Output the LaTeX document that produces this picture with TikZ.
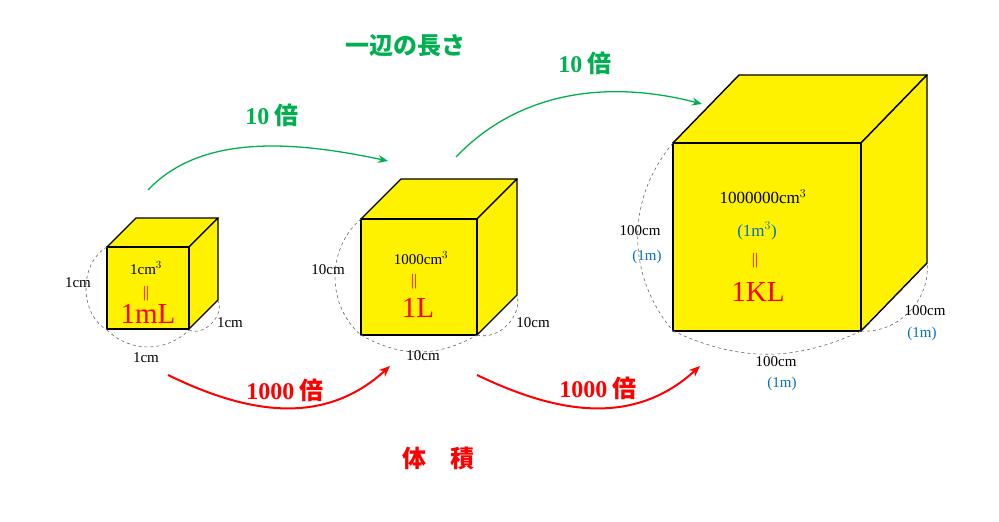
\documentclass[tikz,border=0pt]{standalone}
\usepackage{fontspec}
\setmainfont{Liberation Serif}
\newfontfamily\jp{Noto Sans CJK JP}
\usetikzlibrary{arrows.meta}
\definecolor{cy}{HTML}{FFF200}
\definecolor{cg}{HTML}{00B050}
\definecolor{cb}{HTML}{0070C0}
\tikzset{
 face/.style={fill=cy,draw=black,line width=1.4pt,line join=round},
 dim/.style={draw=black!60,dashed,line width=0.6pt},
 lbl/.style={font=\fontsize{15}{15}\selectfont,inner sep=0pt},
 blbl/.style={lbl,text=cb},
 eq/.style={text=red,font=\fontsize{16}{16}\selectfont,inner sep=0pt},
 big/.style={text=red,font=\fontsize{29}{29}\selectfont,inner sep=0pt},
 garr/.style={draw=cg,line width=1.3pt,-{Stealth[length=10pt,width=8pt]}},
 rarr/.style={draw=red,line width=2pt,-{Stealth[length=11pt,width=9pt]}},
 gtxt/.style={text=cg,font=\fontsize{24}{24}\selectfont\bfseries\jp,inner sep=0pt},
 rtxt/.style={text=red,font=\fontsize{24}{24}\selectfont\bfseries\jp,inner sep=0pt},
}
\newcommand\cube[5]{% x,y (front top-left), size, dx, dy
 \fill[face] (#1,#2) -- ++(#4,-#5) -- ++(#3,0) -- ++(-#4,#5) -- cycle;
 \fill[face] (#1+#3,#2) -- ++(#4,-#5) -- ++(0,#3) -- ++(-#4,#5) -- cycle;
 \fill[face] (#1,#2) rectangle ++(#3,#3);
}
\begin{document}
\begin{tikzpicture}[x=1pt,y=-1pt]
\useasboundingbox (0,0) rectangle (999,522);
% cubes
\cube{107}{247}{82}{29}{29}
\cube{361}{219}{116}{40}{40}
\cube{673}{143}{188}{66}{68}
% coordinates for arcs
\coordinate (s1) at (107,247); \coordinate (s2) at (107,330); \coordinate (s3) at (189,330); \coordinate (s4) at (218,301);
\coordinate (m1) at (361,219); \coordinate (m2) at (361,335); \coordinate (m3) at (477,335); \coordinate (m4) at (517,295);
\coordinate (l1) at (673,143); \coordinate (l2) at (673,331); \coordinate (l3) at (861,331); \coordinate (l4) at (927,263);
\draw[dim] (s1) to[bend right=60] (s2);
\draw[dim] (s2) to[bend right=45] (s3);
\draw[dim] (s3) to[bend right=70] (s4);
\draw[dim] (m1) to[bend right=50] (m2);
\draw[dim] (m2) to[bend right=30] (m3);
\draw[dim] (m3) to[bend right=60] (m4);
\draw[dim] (l1) to[bend right=40] (l2);
\draw[dim] (l2) to[bend right=25] (l3);
\draw[dim] (l3) to[bend right=50] (l4);
% labels small
\node[lbl] (a1) at (78,283) {1cm};
\node[lbl] (a2) at (146,358) {1cm};
\node[lbl] (a3) at (230,323) {1cm};
\node[lbl] (a4) at (146,268) {1cm$^{3}$};
\node[eq] (a5) at (146,294) {||};
\node[big] (a6) at (148,314) {1mL};
% medium
\node[lbl] (b1) at (328,270) {10cm};
\node[lbl] (b2) at (423,356) {10cm};
\node[lbl] (b3) at (533,323) {10cm};
\node[lbl] (b4) at (421,258) {1000cm$^{3}$};
\node[eq] (b5) at (414,282) {||};
\node[big] (b6) at (418,308) {1L};
% large
\node[lbl] (c1) at (640,231) {100cm};
\node[blbl] (c2) at (647,257) {(1m)};
\node[lbl] (c3) at (776,362) {100cm};
\node[blbl] (c4) at (782,384) {(1m)};
\node[lbl] (c5) at (925,311) {100cm};
\node[blbl] (c6) at (922,334) {(1m)};
\node[lbl,font=\fontsize{17}{17}\selectfont] (c7) at (763,197) {1000000cm$^{3}$};
\node[blbl,font=\fontsize{17}{17}\selectfont] (c8) at (757,231) {(1m$^{3}$)};
\node[eq] (c9) at (755,261) {||};
\node[big] (c10) at (758,292) {1KL};
% titles
\node[gtxt] (t1) at (405,46) {一辺の長さ};
\node[gtxt] (t2) at (272,115) {{\rmfamily 10} 倍};
\node[gtxt] (t3) at (585,63) {{\rmfamily 10} 倍};
\node[rtxt] (t4) at (285,390) {{\rmfamily 1000} 倍};
\node[rtxt] (t5) at (598,388) {{\rmfamily 1000} 倍};
\node[rtxt] (t6) at (438,458) {体\quad 積};
% arrows
\coordinate (g1s) at (148,190); \coordinate (g1e) at (388,161);
\coordinate (g2s) at (456,157); \coordinate (g2e) at (702,104);
\draw[garr] (g1s) .. controls (200,135) and (290,140) .. (g1e);
\draw[garr] (g2s) .. controls (520,90) and (610,80) .. (g2e);
\coordinate (r1s) at (168,375); \coordinate (r1e) at (390,366);
\coordinate (r2s) at (477,375); \coordinate (r2e) at (700,366);
\draw[rarr] (r1s) .. controls (240,410) and (320,430) .. (r1e);
\draw[rarr] (r2s) .. controls (550,410) and (630,430) .. (r2e);
\end{tikzpicture}
\end{document}
